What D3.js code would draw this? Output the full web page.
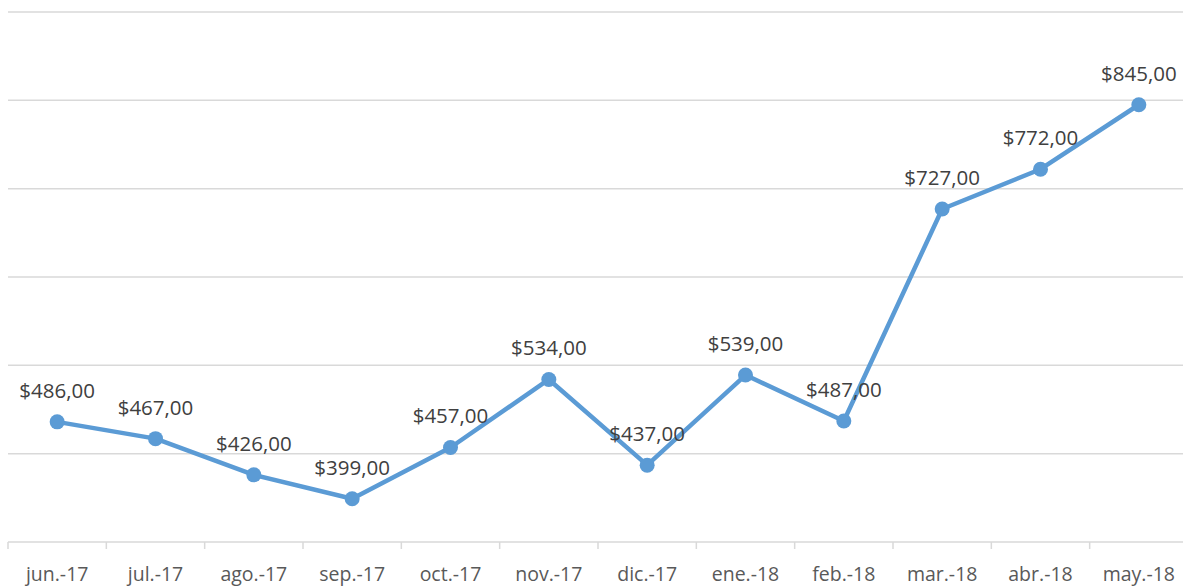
<!DOCTYPE html>
<html>
<head>
<meta charset="utf-8">
<script src="https://cdn.jsdelivr.net/npm/d3@7"></script>
<style>
  body { margin: 0; background: #fff; }
  svg { display: block; }
</style>
</head>
<body>
<svg id="chart" width="1183" height="586"></svg>
<script>
var months = ["jun.-17", "jul.-17", "ago.-17", "sep.-17", "oct.-17", "nov.-17",
              "dic.-17", "ene.-18", "feb.-18", "mar.-18", "abr.-18", "may.-18"];
var sales = [486, 467, 426, 399, 457, 534, 437, 539, 487, 727, 772, 845];
var gridValues = [350, 450, 550, 650, 750, 850, 950];

var fontFamily = "'Open Sans', sans-serif";
var lineColor = "#5b9bd5";

var svg = d3.select("#chart");
var plotLeft = 8, plotRight = 1188, plotTop = 12, plotBottom = 542;

var x = d3.scaleBand()
  .domain(months)
  .range([plotLeft, plotRight]);

var y = d3.scaleLinear()
  .domain([350, 950])
  .range([plotBottom, plotTop]);

// horizontal gridlines
svg.append("g")
  .selectAll("line")
  .data(gridValues)
  .enter().append("line")
  .attr("x1", plotLeft)
  .attr("x2", plotRight)
  .attr("y1", function(d) { return y(d); })
  .attr("y2", function(d) { return y(d); })
  .attr("stroke", "#d9d9d9")
  .attr("stroke-width", 1.5);

// category axis
var xAxis = svg.append("g")
  .attr("transform", "translate(0," + plotBottom + ")")
  .call(d3.axisBottom(x).tickSize(0).tickPadding(25));

xAxis.select(".domain").remove();
xAxis.selectAll("text")
  .attr("fill", "#595959")
  .style("font-family", fontFamily)
  .style("font-size", "19.5px");

// tick marks at band edges
svg.append("g")
  .selectAll("line")
  .data(months.concat(["end"]))
  .enter().append("line")
  .attr("x1", function(d, i) { return plotLeft + i * x.step(); })
  .attr("x2", function(d, i) { return plotLeft + i * x.step(); })
  .attr("y1", plotBottom)
  .attr("y2", plotBottom + 7)
  .attr("stroke", "#d9d9d9")
  .attr("stroke-width", 1.5);

var cx = function(d, i) { return x(months[i]) + x.bandwidth() / 2; };

var line = d3.line()
  .x(cx)
  .y(function(d) { return y(d); });

svg.append("path")
  .datum(sales)
  .attr("d", line)
  .attr("fill", "none")
  .attr("stroke", lineColor)
  .attr("stroke-width", 4.5)
  .attr("stroke-linejoin", "round");

svg.append("g")
  .selectAll("circle")
  .data(sales)
  .enter().append("circle")
  .attr("cx", cx)
  .attr("cy", function(d) { return y(d); })
  .attr("r", 7.5)
  .attr("fill", lineColor);

// data labels
svg.append("g")
  .selectAll("text")
  .data(sales)
  .enter().append("text")
  .attr("x", cx)
  .attr("y", function(d) { return y(d) - 24; })
  .attr("text-anchor", "middle")
  .attr("fill", "#404040")
  .style("font-family", fontFamily)
  .style("font-size", "20.5px")
  .text(function(d) { return "$" + d + ",00"; });
</script>
</body>
</html>
